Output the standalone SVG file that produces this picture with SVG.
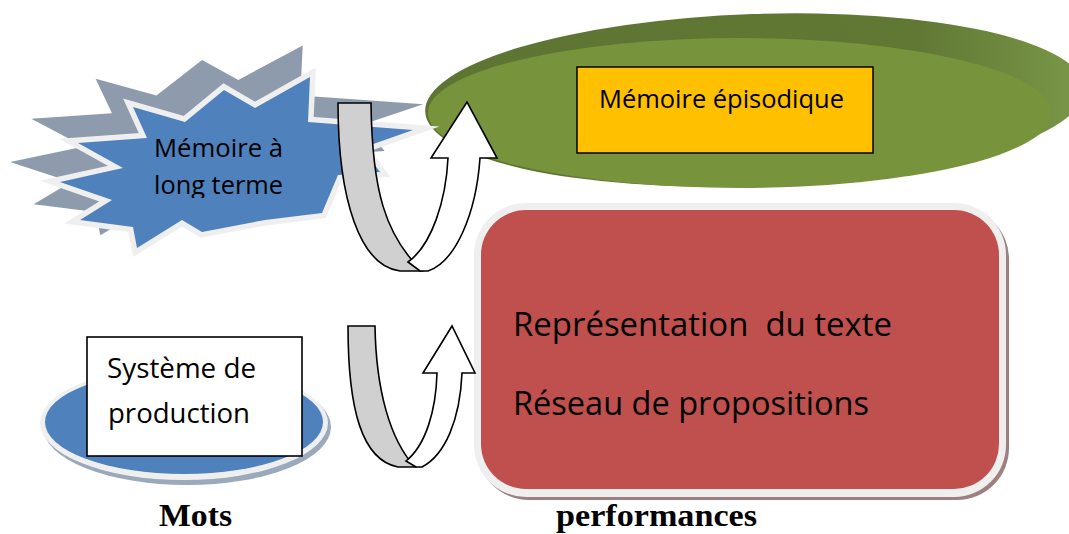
<svg xmlns="http://www.w3.org/2000/svg" width="1069" height="534" viewBox="0 0 1069 534">
<defs>
<style>
.t{font-family:"Open Sans","Noto Sans","Liberation Sans",sans-serif;fill:#000}
.b{font-family:"Liberation Serif","Times New Roman",serif;font-weight:bold;fill:#000}
.arw{stroke:#000;stroke-width:1.6;stroke-linejoin:miter}
</style>
<polygon id="star" points="133,107 185,122 224,90 255,108 310,77 308,122 413,130 362,148 380,172 338,175 322,213 265,220 202,232 182,220 137,248 133,227 80,220 112,200 60,182 123,168 78,143 147,138"/>
<clipPath id="clipStar"><rect x="0" y="0" width="420" height="198"/></clipPath>
<linearGradient id="rim" x1="0" y1="0" x2="1" y2="0">
<stop offset="0" stop-color="#5d7432"/><stop offset="0.75" stop-color="#617835"/><stop offset="1" stop-color="#7a9848"/>
</linearGradient>
</defs>
<rect width="1069" height="534" fill="#fff"/>

<g id="node-episodic">
<ellipse cx="755" cy="100" rx="330" ry="86" transform="rotate(-2 755 100)" fill="url(#rim)"/>
<ellipse cx="740" cy="113" rx="312" ry="75" fill="#77933c"/>
<rect x="577" y="67" width="296" height="86" fill="#ffc000" stroke="#000" stroke-width="1.5"/>
<text class="t" x="599" y="108" font-size="25" textLength="245" lengthAdjust="spacingAndGlyphs">Mémoire épisodique</text>
</g>

<g id="node-ltm">
<use href="#star" transform="translate(-60,-40) scale(1.17,1.11)" fill="#8d9bad"/>
<use href="#star" fill="none" stroke="#efefef" stroke-width="11" stroke-linejoin="miter" stroke-miterlimit="6"/>
<use href="#star" fill="#4f81bd"/>
<g clip-path="url(#clipStar)">
<text class="t" x="154" y="157" font-size="25" textLength="129" lengthAdjust="spacingAndGlyphs">Mémoire à</text>
<text class="t" x="154" y="194" font-size="25" textLength="129" lengthAdjust="spacingAndGlyphs">long terme</text>
</g>
</g>

<g id="node-production">
<ellipse cx="187" cy="427" rx="144" ry="58" fill="#9aa9bb"/>
<ellipse cx="184" cy="423" rx="144" ry="57" fill="#efefef"/>
<ellipse cx="184" cy="422" rx="139" ry="52" fill="#4f81bd"/>
<rect x="87" y="337" width="215" height="119" fill="#fff" stroke="#000" stroke-width="1.6"/>
<text class="t" x="107" y="378" font-size="27" textLength="149" lengthAdjust="spacingAndGlyphs">Système de</text>
<text class="t" x="108" y="423" font-size="27" textLength="142" lengthAdjust="spacingAndGlyphs">production</text>
</g>

<g id="node-representation">
<rect x="477" y="207" width="532" height="293" rx="52" fill="#9e8080"/>
<rect x="474" y="203" width="532" height="294" rx="52" fill="#efefef"/>
<rect x="481" y="210" width="518" height="279" rx="45" fill="#c0504d"/>
<text class="t" x="513" y="336" font-size="32" textLength="379" lengthAdjust="spacingAndGlyphs" xml:space="preserve" style="white-space:pre">Représentation  du texte</text>
<text class="t" x="513" y="415" font-size="32" textLength="356" lengthAdjust="spacingAndGlyphs">Réseau de propositions</text>
</g>

<g id="connectors">
<path class="arw" fill="#d0d0d0" d="M338,103 L371,103 C372,190 385,235 422,271 L400,271 C360,266 338,200 338,103 Z"/>
<path class="arw" fill="#fff" d="M408,262 L420,271 L428,271 C455,262 476,215 480,158 L497,158 L467,102 L431,158 L448,158 C446,200 432,245 408,262 Z"/>
<path class="arw" fill="#d0d0d0" d="M348,326 L375,326 C376,390 390,440 415,467 L398,467 C362,460 348,410 348,326 Z"/>
<path class="arw" fill="#fff" d="M406,461 L416,467 L422,467 C445,455 460,420 462,373 L475,373 L452,326 L423,373 L437,373 C436,410 426,445 406,461 Z"/>
</g>

<g id="labels">
<text class="b" x="159" y="526" font-size="32" textLength="73" lengthAdjust="spacingAndGlyphs">Mots</text>
<text class="b" x="556" y="526" font-size="32" textLength="201" lengthAdjust="spacingAndGlyphs">performances</text>
</g>
</svg>
